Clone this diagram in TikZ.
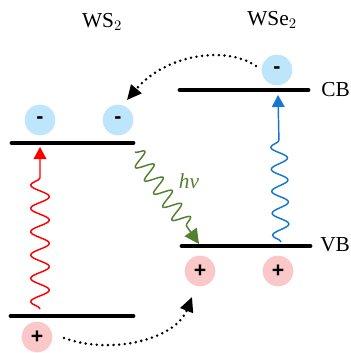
\documentclass[tikz,border=0pt]{standalone}
\usepackage{fontspec}
\setmainfont{Liberation Serif}
\newfontfamily\signfont{Liberation Sans}
\usetikzlibrary{arrows.meta,decorations.pathmorphing}
\definecolor{elecfill}{RGB}{190,230,250}
\definecolor{holefill}{RGB}{250,200,200}
\definecolor{photred}{RGB}{255,0,0}
\definecolor{photblue}{RGB}{20,120,210}
\definecolor{photgreen}{RGB}{82,128,48}
\begin{document}
\begin{tikzpicture}[x=0.75pt,y=-0.75pt,
  level/.style={line width=3.7pt,line cap=round},
  carrier/.style={circle,inner sep=0pt,minimum size=23pt,font=\signfont\bfseries\fontsize{16}{16}\selectfont},
  electron/.style={carrier,fill=elecfill},
  holebox/.style={carrier,fill=holefill},
  photon/.style={decorate,line width=1.1pt,line join=round,
    -{Triangle[length=9pt,width=9.5pt]}},
  transfer/.style={line width=2.1pt,dash pattern=on 0pt off 4.2pt,line cap=round,
    -{Triangle[length=11pt,width=10pt,line cap=butt]}},
  label/.style={font=\fontsize{16}{16}\selectfont,inner sep=0pt}]
\useasboundingbox (0,0) rectangle (350,353);

% material labels
\node[label] (ws2) at (102,22) {WS$_2$};
\node[label] (wse2) at (272,20) {WSe$_2$};

% band edges
\coordinate (cbAl) at (12,143);  \coordinate (cbAr) at (133,143);
\coordinate (vbAl) at (11,316);  \coordinate (vbAr) at (133,316);
\coordinate (cbBl) at (180,90);  \coordinate (cbBr) at (308,90);
\coordinate (vbBl) at (182,246); \coordinate (vbBr) at (310,246);
\draw[level] (cbAl) -- (cbAr);
\draw[level] (vbAl) -- (vbAr);
\draw[level] (cbBl) -- (cbBr);
\draw[level] (vbBl) -- (vbBr);

\node[label,anchor=west] (cb) at (321,90) {CB};
\node[label,anchor=west] (vb) at (320,245) {VB};

% electrons and holes
\node[electron] (eA1) at (40,120) {-};
\node[electron] (eA2) at (118,120) {-};
\node[electron] (eB) at (277,70) {-};
\node[holebox] (hA) at (37,337) {+};
\node[holebox] (hB1) at (200,271) {+};
\node[holebox] (hB2) at (278,271) {+};

% optical excitation and emission
\coordinate (rS) at (40,309);   \coordinate (rE) at (40,147);
\coordinate (bS) at (281,242);  \coordinate (bE) at (278,95);
\coordinate (gS) at (135,152);  \coordinate (gE) at (199,244);
\draw[photon,photred,decoration={snake,amplitude=7pt,segment length=17.5pt,post length=22pt}] (rS) -- (rE);
\draw[photon,photblue,decoration={snake,amplitude=6.2pt,segment length=16.5pt,post length=26pt}] (bS) -- (bE);
\draw[photon,photgreen,-{Triangle[length=11pt,width=11pt]},decoration={snake,amplitude=6.5pt,segment length=12pt,post length=15pt}] (gS) -- (gE);
\node[font=\itshape\fontsize{16}{16}\selectfont,text=photgreen,inner sep=0pt] (hv) at (189,181) {hν};

% charge transfer
\coordinate (tS) at (256,66); \coordinate (tE) at (127,100);
\coordinate (uS) at (64,338); \coordinate (uE) at (192,297);
\draw[transfer] (tS) .. controls (225,45) and (165,55) .. (tE);
\draw[transfer] (uS) .. controls (110,355) and (175,340) .. (uE);
\end{tikzpicture}
\end{document}
